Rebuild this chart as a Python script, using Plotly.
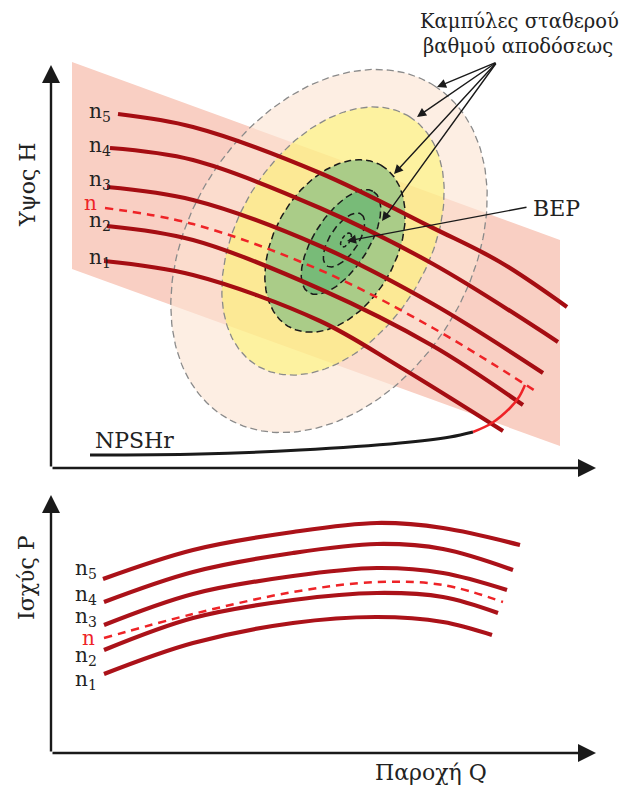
import numpy as np
import plotly.graph_objects as go

# ---------------- data (pixel-like units) ----------------
# Upper panel: head curves H(Q) for speeds n1..n5 and nominal n
head_x = {
    "n5": [118, 193, 320, 433, 500, 567],
    "n4": [110, 193, 320, 433, 558],
    "n3": [107, 193, 320, 433, 543],
    "n":  [105, 193, 320, 433, 537],
    "n2": [107, 193, 320, 433, 523],
    "n1": [104, 193, 320, 400, 503],
}
head_y = {
    "n5": [114, 127, 173, 228, 262, 307],
    "n4": [148, 160, 208, 264, 342],
    "n3": [187, 200, 246, 304, 373],
    "n":  [208, 224, 270, 328, 392],
    "n2": [226, 240, 289, 346, 405],
    "n1": [261, 275, 321, 367, 431],
}
# NPSHr curve and its red continuation
npsh_x = [90, 200, 300, 400, 450, 473]
npsh_y = [455, 454, 450, 443, 437, 432]
arc_x = [473, 492, 510, 519, 525]
arc_y = [432, 423, 408, 397, 385]
# operating band (parallelogram)
band_x = [72, 560, 560, 72]
band_y = [62, 240, 446, 269]
# iso-efficiency contours: centre, semi-axes, tilt (deg from vertical)
ell_cx = [329, 333, 335, 341, 344, 346]
ell_cy = [251, 241, 246, 242, 240, 240]
ell_a = [196, 146, 93, 60, 31, 8]
ell_b = [140, 95, 61, 27, 14, 4]
ell_tilt = [32.5, 31.4, 29.6, 33.0, 33.5, 33.0]
ell_fill = ["rgba(252,228,211,0.63)", "rgba(253,246,93,0.5)", "rgb(170,204,136)",
            "rgb(120,187,120)", None, None]
ell_line = ["#8a8a8a", "#8a8a8a", "#1a1a1a", "#1a1a1a", "#1a1a1a", "#1a1a1a"]

# Lower panel: power curves P(Q)
pow_x = {
    "n5": [103, 193, 293, 377, 443, 520],
    "n4": [104, 193, 293, 377, 443, 513],
    "n3": [104, 193, 293, 377, 443, 507],
    "n":  [104, 193, 293, 377, 443, 503],
    "n2": [104, 193, 293, 377, 443, 498],
    "n1": [104, 193, 293, 377, 443, 492],
}
pow_y = {
    "n5": [579, 550, 532, 523, 528, 545],
    "n4": [602, 572, 553, 544, 549, 570],
    "n3": [625, 594, 576, 568, 573, 590],
    "n":  [638, 614, 592, 582, 585, 602],
    "n2": [650, 618, 600, 593, 597, 613],
    "n1": [674, 643, 623, 617, 622, 635],
}

series = ["n5", "n4", "n3", "n", "n2", "n1"]
label_text = {"n5": "n<sub>5</sub>", "n4": "n<sub>4</sub>", "n3": "n<sub>3</sub>",
              "n": "n", "n2": "n<sub>2</sub>", "n1": "n<sub>1</sub>"}
head_lab_y = {"n5": 112, "n4": 146, "n3": 180, "n": 203, "n2": 221, "n1": 258}
pow_lab_y = {"n5": 569, "n4": 595, "n3": 617, "n": 638, "n2": 656, "n1": 680}

DARK_RED = "#a50d12"
RED = "#ee2327"
INK = "#1a1a1a"
SERIF = "DejaVu Serif"

fig = go.Figure()

# band
fig.add_trace(go.Scatter(x=band_x + [band_x[0]], y=band_y + [band_y[0]], fill="toself",
                         fillcolor="#f9cfc3", line=dict(width=0), mode="lines",
                         hoverinfo="skip"))

# contours
t = np.linspace(0, 2 * np.pi, 241)
for cx, cy, a, b, tilt, fc, lc in zip(ell_cx, ell_cy, ell_a, ell_b, ell_tilt, ell_fill, ell_line):
    th = np.radians(tilt)
    ux, uy = np.sin(th), -np.cos(th)
    vx, vy = np.cos(th), np.sin(th)
    ex = cx + a * np.cos(t) * ux + b * np.sin(t) * vx
    ey = cy + a * np.cos(t) * uy + b * np.sin(t) * vy
    lw = 1.3 if lc == "#8a8a8a" else 1.5
    dash = "7px,4px" if a > 20 else "4px,3px"
    fig.add_trace(go.Scatter(x=ex, y=ey, mode="lines",
                             fill="toself" if fc else None,
                             fillcolor=fc if fc else None,
                             line=dict(color=lc, width=lw, dash=dash),
                             hoverinfo="skip"))

# head curves
for s in series:
    dashed = s == "n"
    fig.add_trace(go.Scatter(x=head_x[s], y=head_y[s], mode="lines",
                             line=dict(color=RED if dashed else DARK_RED,
                                       width=2.5 if dashed else 4.2,
                                       dash="8px,6px" if dashed else "solid",
                                       shape="spline", smoothing=1.0),
                             hoverinfo="skip"))

# NPSHr
fig.add_trace(go.Scatter(x=npsh_x, y=npsh_y, mode="lines",
                         line=dict(color=INK, width=3, shape="spline"),
                         hoverinfo="skip"))
fig.add_trace(go.Scatter(x=arc_x, y=arc_y, mode="lines",
                         line=dict(color=RED, width=2.5, shape="spline"),
                         hoverinfo="skip"))

# power curves
for s in series:
    dashed = s == "n"
    fig.add_trace(go.Scatter(x=pow_x[s], y=pow_y[s], mode="lines",
                             line=dict(color=RED if dashed else "#ab1219",
                                       width=2.5 if dashed else 4.2,
                                       dash="8px,6px" if dashed else "solid",
                                       shape="spline", smoothing=1.0),
                             hoverinfo="skip"))

annotations = []


def arrow(x0, y0, x1, y1, width, size):
    annotations.append(dict(x=x1, y=y1, ax=x0, ay=y0, xref="x", yref="y",
                            axref="x", ayref="y", text="", showarrow=True,
                            arrowhead=2, arrowsize=size, arrowwidth=width,
                            arrowcolor=INK, standoff=0, startstandoff=0))


# axes
arrow(51, 468, 51, 65, 2.4, 1.5)
arrow(51, 468, 596, 468, 2.4, 1.5)
arrow(51, 753, 51, 495, 2.4, 1.5)
arrow(51, 753, 596, 753, 2.4, 1.5)
# pointer arrows to efficiency curves
for tx, ty in [(437, 87), (417, 117), (394, 174), (382, 221)]:
    arrow(497, 62, tx, ty, 1.4, 1.3)
# BEP arrow
arrow(528, 207, 347, 241, 1.4, 1.3)


def txt(x, y, s, size=20, color="#222222", xanchor="center", angle=0):
    annotations.append(dict(x=x, y=y, xref="x", yref="y", text=s, showarrow=False,
                            xanchor=xanchor, yanchor="middle", textangle=angle,
                            font=dict(family=SERIF, size=size, color=color)))


txt(519, 21, "Καμπύλες σταθερού", 19.5)
txt(518, 46, "βαθμού αποδόσεως", 19.5)
txt(556, 208, "BEP", 22)
txt(134, 440, "NPSHr", 22)
txt(27, 185, "Υψος H", 22, angle=-90)
txt(26, 578, "Ισχύς P", 22, angle=-90)
txt(431, 772, "Παροχή Q", 22)

for s in series:
    col = RED if s == "n" else "#222222"
    txt(113 if s != "n" else 99, head_lab_y[s], label_text[s], 20, col, xanchor="right")
    txt(99 if s != "n" else 97, pow_lab_y[s], label_text[s], 20, col, xanchor="right")

fig.update_layout(
    width=628, height=788, margin=dict(l=0, r=0, t=0, b=0),
    paper_bgcolor="white", plot_bgcolor="white", showlegend=False,
    xaxis=dict(range=[0, 628], visible=False, fixedrange=True),
    yaxis=dict(range=[788, 0], visible=False, fixedrange=True),
    annotations=annotations,
)

fig.write_html("out.html", config={"displayModeBar": False},
               post_script="document.body.style.margin='0';")
